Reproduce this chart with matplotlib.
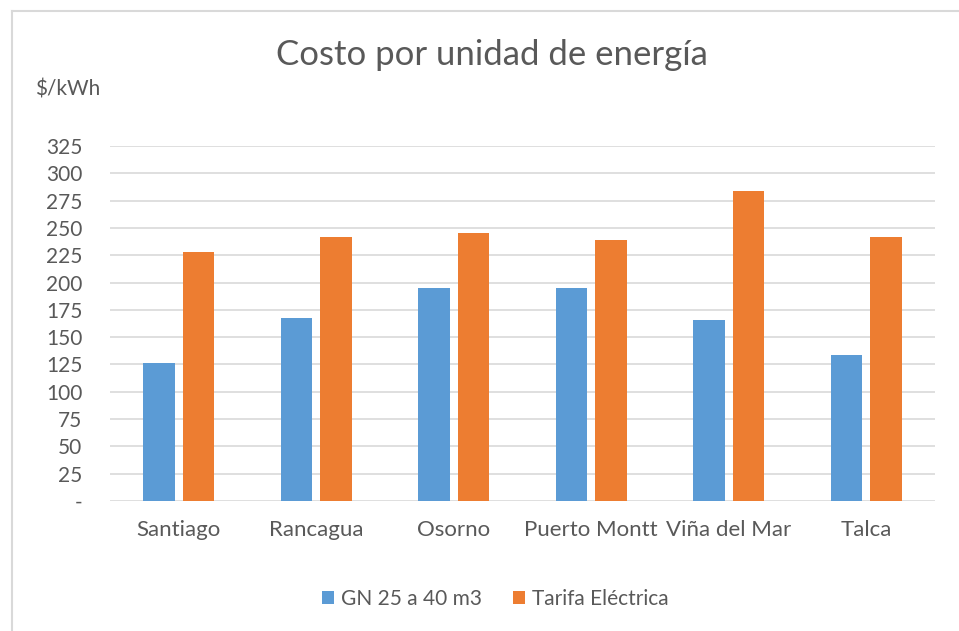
import matplotlib.pyplot as plt
import numpy as np
from matplotlib.lines import Line2D

# data
ciudades = ['Santiago', 'Rancagua', 'Osorno', 'Puerto Montt', 'Viña del Mar', 'Talca']
gn_25_40 = [126.5, 167.9, 195.2, 195.2, 166.1, 133.9]
tarifa_electrica = [227.6, 241.7, 245.7, 239.3, 283.4, 241.7]
yticks = list(range(0, 326, 25))
ytick_labels = ['-'] + [str(v) for v in yticks[1:]]

azul = '#5B9BD5'
naranja = '#ED7D31'
gris = '#595959'

plt.rcParams['font.family'] = ['Lato', 'DejaVu Sans']

fig = plt.figure(figsize=(9.59, 6.31), dpi=100)
ax = fig.add_axes([110 / 959, 1 - 501 / 631, 825 / 959, 355 / 631])

x = np.arange(len(ciudades))
w = 0.228
ax.bar(x - 0.143, gn_25_40, width=w, color=azul, label='GN 25 a 40 m3', zorder=3)
ax.bar(x + 0.143, tarifa_electrica, width=w, color=naranja, label='Tarifa Eléctrica', zorder=3)

ax.set_xlim(-0.5, len(ciudades) - 0.5)
ax.set_ylim(0, 325)
ax.set_yticks(yticks)
ax.set_yticklabels(ytick_labels)
ax.set_xticks(x)
ax.set_xticklabels(ciudades)
ax.tick_params(axis='y', length=0, pad=20, labelsize=15, labelcolor=gris)
ax.tick_params(axis='x', length=0, pad=14, labelsize=16, labelcolor=gris)
ax.grid(axis='y', color='#D9D9D9', linewidth=1.2, zorder=0)
for s in ax.spines.values():
    s.set_visible(False)

fig.text(0.5 * (278 + 705) / 959, 1 - 55 / 631, 'Costo por unidad de energía',
         ha='center', va='center', fontsize=25, color=gris)
fig.text(35 / 959, 1 - 90 / 631, '$/kWh', ha='left', va='center', fontsize=15, color=gris)

fig.legend(loc='center', bbox_to_anchor=(495 / 959, 1 - 599 / 631), ncol=2, frameon=False,
           fontsize=15, labelcolor=gris, handlelength=0.6, handleheight=0.6,
           handletextpad=0.3, columnspacing=1.5)

# chart frame: only top and left edges are visible in the crop
fig.lines.append(Line2D([11.5 / 959, 11.5 / 959], [0, 1 - 10.5 / 631], transform=fig.transFigure,
                        color='#D9D9D9', linewidth=1.5))
fig.lines.append(Line2D([11.5 / 959, 1], [1 - 10.5 / 631, 1 - 10.5 / 631], transform=fig.transFigure,
                        color='#D9D9D9', linewidth=1.5))

fig.savefig('out.png', dpi=100)
